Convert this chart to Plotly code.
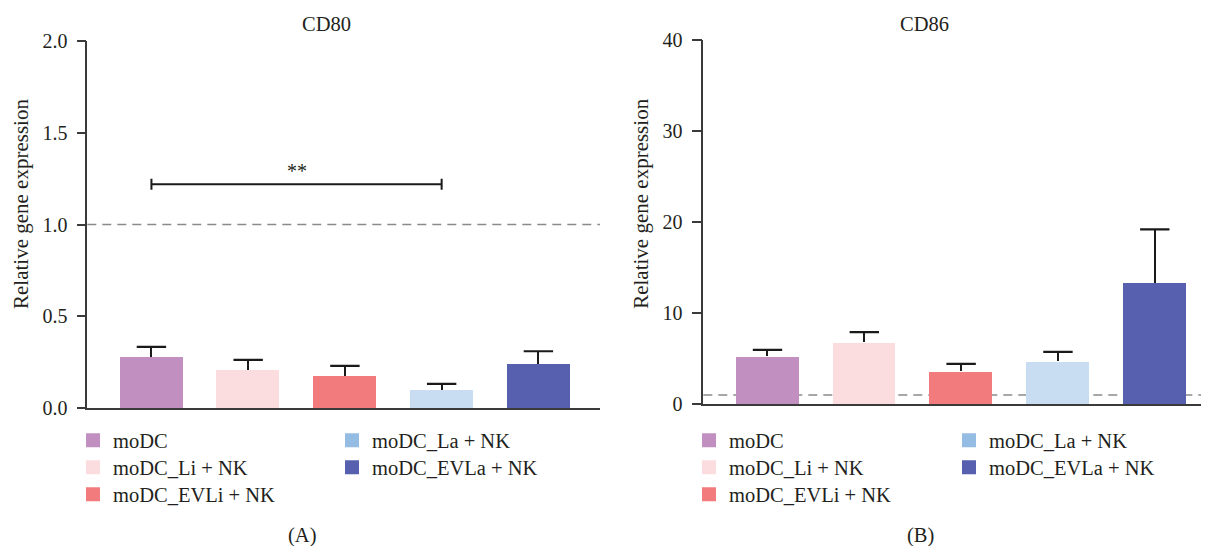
import plotly.graph_objects as go

groups = ["moDC", "moDC_Li + NK", "moDC_EVLi + NK", "moDC_La + NK", "moDC_EVLa + NK"]
bar_colors = ["#C190C1", "#FBDDE0", "#F27B7D", "#C8DDF2", "#5660AE"]
legend_colors = ["#C190C1", "#FBDDE0", "#F27B7D", "#95BDE3", "#5660AE"]

cd80_mean = [0.278, 0.206, 0.174, 0.097, 0.239]
cd80_err = [0.056, 0.057, 0.056, 0.035, 0.071]
cd86_mean = [5.26, 6.81, 3.61, 4.71, 13.32]
cd86_err = [0.70, 1.10, 0.81, 1.03, 5.85]

cd80_ticks = [0.0, 0.5, 1.0, 1.5, 2.0]
cd86_ticks = [0, 10, 20, 30, 40]
reference_level = 1.0
sig_y = 1.22
sig_cap = 0.03
sig_label = "**"

FONT = "Liberation Serif"
TXT = "#231F20"
AX = "#3a3a3a"
ERR = "#1a1a1a"

# page body has an 8px margin -> figure drawn 8px right/down of the window corner
OFF = 8
W, H = 1209 - OFF, 546 - OFF


def px(x):
    return (x - OFF) / W


def py(y):
    return 1 - (y - OFF) / H


fig = go.Figure()

for mean, err, xa, ya in [(cd80_mean, cd80_err, "x", "y"), (cd86_mean, cd86_err, "x2", "y2")]:
    fig.add_trace(go.Bar(
        x=groups, y=mean, xaxis=xa, yaxis=ya, width=0.65,
        marker=dict(color=bar_colors, line=dict(width=0)),
        error_y=dict(type="data", array=err, arrayminus=[0] * len(err), symmetric=False,
                     color=ERR, thickness=2, width=0),
        showlegend=False,
    ))
    fig.add_trace(go.Scatter(
        x=groups, y=[m + e for m, e in zip(mean, err)], xaxis=xa, yaxis=ya, mode="markers",
        marker=dict(symbol="line-ew", size=21, line=dict(color=ERR, width=2.2)),
        showlegend=False, hoverinfo="skip",
    ))

# significance bracket (panel A): moDC vs moDC_La + NK
fig.add_trace(go.Scatter(
    x=[groups[0], groups[0], None, groups[0], groups[3], None, groups[3], groups[3]],
    y=[sig_y - sig_cap, sig_y + sig_cap, None, sig_y, sig_y, None, sig_y - sig_cap, sig_y + sig_cap],
    xaxis="x", yaxis="y", mode="lines", line=dict(color=ERR, width=2),
    showlegend=False, hoverinfo="skip",
))

# legends: one legend box per entry (two columns under each panel)
col_x = {"A1": 73, "A2": 332, "B1": 689, "B2": 949}
row_y = [440.5, 467.5, 494.5]
entries = [("A1", 0, 0), ("A1", 1, 1), ("A1", 2, 2), ("A2", 3, 0), ("A2", 4, 1),
           ("B1", 0, 0), ("B1", 1, 1), ("B1", 2, 2), ("B2", 3, 0), ("B2", 4, 1)]
legend_layout = {}
for k, (col, i, r) in enumerate(entries):
    name = "legend" if k == 0 else f"legend{k + 1}"
    fig.add_trace(go.Scatter(
        x=[None], y=[None], mode="markers", name=groups[i], legend=name,
        marker=dict(symbol="square", size=14, color=legend_colors[i], line=dict(width=0)),
        xaxis="x", yaxis="y", showlegend=True,
    ))
    legend_layout[name] = dict(x=px(col_x[col]), y=py(row_y[r]), xanchor="left", yanchor="middle",
                               bgcolor="rgba(0,0,0,0)", itemsizing="trace",
                               font=dict(family=FONT, size=20.5, color=TXT))

common_x = dict(showticklabels=False, ticks="", showline=True, linecolor=AX, linewidth=1.5,
                showgrid=False, zeroline=False, automargin=False, type="category")
common_y = dict(ticks="outside", tickwidth=1.5, tickcolor=AX, showline=True, linecolor=AX,
                linewidth=1.5, showgrid=False, zeroline=False, automargin=False,
                tickfont=dict(family=FONT, size=20, color=TXT), ticklabelstandoff=5)
fig.update_layout(
    width=W, height=H, autosize=False,
    margin=dict(l=0, r=0, t=0, b=0, pad=0),
    paper_bgcolor="white", plot_bgcolor="white",
    font=dict(family=FONT, color=TXT),
    bargap=0,
    xaxis=dict(domain=[px(87.3), px(600)], range=[-0.663, 4.637], **common_x),
    yaxis=dict(domain=[py(408.2), py(40.9)], range=[0, 2], tickvals=cd80_ticks,
               tickformat=".1f", ticklen=9, **common_y),
    xaxis2=dict(domain=[px(703.3), 1.0], range=[-0.663, 4.56], anchor="y2", **common_x),
    yaxis2=dict(domain=[py(404.2), py(39.6)], range=[0, 40], tickvals=cd86_ticks,
                ticklen=10, anchor="x2", **common_y),
    **legend_layout,
)

for xr, yr in [("x domain", "y"), ("x2 domain", "y2")]:
    fig.add_shape(type="line", xref=xr, yref=yr, x0=0, x1=1, y0=reference_level, y1=reference_level,
                  line=dict(color="#8a8a8a", width=1.5, dash="9px,6px"), layer="below")

ann = [
    dict(text="CD80", x=326.5, y=23.5),
    dict(text="CD86", x=924.6, y=23.5),
    dict(text="(A)", x=301.7, y=535),
    dict(text="(B)", x=920, y=535),
]
for a in ann:
    fig.add_annotation(text=a["text"], x=px(a["x"]), y=py(a["y"]), xref="paper", yref="paper",
                       xanchor="center", yanchor="middle", showarrow=False,
                       font=dict(family=FONT, size=20.5, color=TXT))
for x in [21, 640.8]:
    fig.add_annotation(text="Relative gene expression", x=px(x), y=py(204), xref="paper", yref="paper",
                       xanchor="center", yanchor="middle", textangle=-90, showarrow=False,
                       font=dict(family=FONT, size=21, color=TXT))
fig.add_annotation(text=sig_label, x=1.5, y=sig_y + 0.07, xref="x", yref="y",
                   xanchor="center", yanchor="middle", showarrow=False,
                   font=dict(family=FONT, size=20, color=TXT))

fig.write_html("out.html")
